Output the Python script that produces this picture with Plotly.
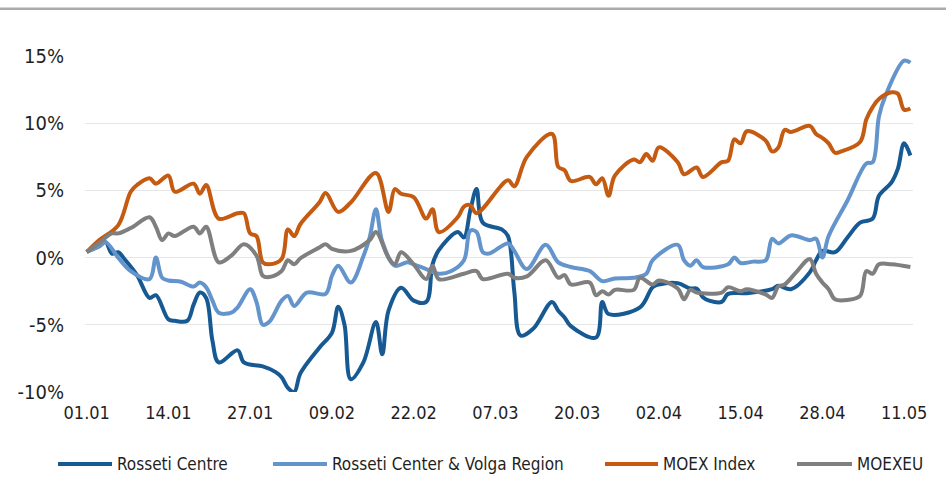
import datetime as dt
import plotly.graph_objects as go

# ---- data (day offsets from 01.01, values in %) ----
BASE = dt.date(2021, 1, 1)

rc_days = [0, 2, 3, 4, 5, 6, 8, 10, 11, 13, 14, 16, 17, 18, 19, 20, 21, 24, 25, 28, 30, 31, 32, 33, 34,
           37, 39, 40, 41, 42, 44, 46, 47, 48, 50, 52, 54, 55, 56, 59, 60, 61, 62, 63, 66, 67, 68, 69, 71,
           74, 75, 76, 77, 81, 82, 83, 88, 90, 91, 94, 96, 97, 98, 99, 101, 102, 105, 109, 110, 112, 115,
           116, 117, 119, 121, 123, 125, 126, 128, 129, 130, 131]
rc_vals = [0.45, 0.85, 1.15, 0.3, 0.4, -0.1, -1.3, -3.0, -2.8, -4.6, -4.7, -4.7, -3.5, -2.6, -3.0, -6.2,
           -7.8, -6.9, -7.8, -8.1, -8.5, -8.9, -9.7, -10.0, -8.6, -6.7, -5.6, -3.65, -5.0, -9.05, -7.8,
           -4.8, -7.2, -3.95, -2.25, -3.2, -3.3, -0.5, 0.55, 1.9, 1.5, 3.5, 5.1, 2.6, 2.1, 1.6, -2.5, -5.8,
           -5.3, -3.3, -3.95, -4.45, -5.1, -5.95, -3.3, -4.2, -3.7, -2.2, -2.0, -1.9, -2.3, -2.3, -2.95,
           -3.2, -3.3, -2.7, -2.65, -2.35, -2.1, -2.35, -1.1, -0.2, 0.5, 0.4, 1.5, 2.6, 2.9, 4.6, 5.6, 6.6,
           8.5, 7.6]

rcv_days = [0, 2, 3, 5, 7, 10, 11, 12, 13, 15, 17, 18, 19, 20, 21, 23, 24, 26, 27, 28, 29, 31, 32, 33, 35,
            38, 39, 40, 42, 44, 45, 46, 47, 49, 51, 52, 54, 56, 58, 60, 61, 62, 63, 64, 67, 68, 70, 73, 75,
            77, 80, 82, 84, 87, 89, 90, 94, 95, 96, 97, 98, 102, 103, 104, 106, 108, 109, 110, 112, 115,
            116, 117, 118, 121, 124, 125, 126, 127, 130, 131]
rcv_vals = [0.45, 0.85, 1.15, 0.0, -1.0, -1.6, 0.0, -1.5, -1.7, -1.8, -2.15, -1.85, -2.2, -3.2, -4.1, -4.1,
            -3.7, -2.35, -3.3, -5.0, -4.8, -3.2, -2.85, -3.6, -2.6, -2.7, -1.35, -0.6, -1.85, 0.1, 1.5, 3.6,
            1.2, -0.6, -0.35, -0.5, -0.85, -1.2, -1.0, -0.2, 2.0, 1.9, 0.4, 0.3, 1.05, 0.5, -0.85, 0.95,
            -0.35, -0.7, -1.0, -1.75, -1.55, -1.5, -1.2, -0.2, 0.95, -0.2, -0.6, -0.2, -0.7, -0.5, 0.0,
            -0.4, -0.3, -0.2, 1.4, 1.05, 1.65, 1.3, 1.4, 0.0, 1.6, 4.25, 7.0, 7.1, 10.5, 12.0, 14.65, 14.5]

moex_days = [0, 2, 5, 7, 8, 10, 11, 13, 14, 17, 18, 19, 21, 24, 25, 26, 27, 28, 29, 31, 32, 33, 34, 37, 38,
             40, 42, 46, 48, 49, 50, 52, 54, 55, 56, 59, 60, 61, 62, 67, 68, 70, 74, 75, 76, 77, 80, 81, 82,
             83, 84, 87, 88, 89, 90, 91, 94, 95, 97, 98, 101, 102, 103, 104, 105, 108, 109, 110, 111, 112,
             115, 116, 117, 118, 119, 120, 123, 124, 125, 126, 128, 129, 130, 131]
moex_vals = [0.4, 1.3, 2.4, 4.9, 5.4, 5.9, 5.5, 6.1, 4.9, 5.5, 4.75, 5.4, 2.9, 3.3, 3.3, 1.8, 1.6, -0.35,
             -0.5, -0.1, 2.1, 1.6, 2.5, 4.1, 4.8, 3.4, 4.1, 6.3, 3.4, 5.1, 4.75, 4.5, 2.9, 3.6, 1.9, 3.0,
             3.8, 3.9, 3.3, 5.75, 5.3, 7.5, 9.2, 6.75, 6.5, 5.7, 6.0, 5.45, 5.9, 4.6, 6.1, 7.3, 7.1, 7.7,
             7.2, 8.2, 7.1, 6.2, 6.7, 6.0, 7.1, 7.2, 8.8, 8.5, 9.4, 8.7, 7.9, 8.2, 9.5, 9.35, 9.8, 9.2,
             8.9, 8.5, 7.8, 7.9, 8.6, 10.3, 11.2, 11.8, 12.3, 12.2, 11.0, 11.1]

eu_days = [0, 2, 4, 5, 7, 10, 11, 12, 13, 14, 17, 18, 19, 21, 23, 25, 27, 28, 29, 31, 32, 33, 34, 37, 38,
           39, 42, 45, 46, 48, 49, 50, 52, 54, 55, 56, 60, 62, 63, 67, 68, 70, 73, 75, 76, 77, 80, 81, 82,
           83, 84, 87, 88, 90, 91, 94, 95, 96, 97, 101, 102, 104, 105, 108, 109, 110, 111, 113, 115, 116,
           117, 118, 119, 121, 123, 124, 125, 126, 128, 131]
eu_vals = [0.4, 1.1, 1.8, 1.8, 2.2, 3.0, 2.3, 1.3, 1.8, 1.6, 2.3, 1.8, 2.3, -0.35, 0.15, 1.0, 0.15, -1.35,
           -1.45, -1.0, -0.2, -0.5, -0.05, 0.75, 1.0, 0.65, 0.5, 1.3, 1.9, 0.0, -0.5, 0.4, -0.5, -1.6,
           -0.6, -1.6, -1.2, -1.0, -1.6, -1.2, -1.5, -1.4, -0.2, -1.5, -1.3, -2.0, -1.85, -2.8, -2.5,
           -2.75, -2.4, -2.4, -1.5, -2.0, -1.7, -2.3, -3.1, -2.4, -2.6, -2.6, -2.2, -2.5, -2.35, -2.75,
           -3.0, -2.15, -2.0, -1.0, -0.1, -1.2, -1.85, -2.35, -3.1, -3.15, -2.85, -1.0, -1.2, -0.5, -0.5,
           -0.7]

series_names = ["Rosseti Centre", "Rosseti Center & Volga Region", "MOEX Index", "MOEXEU"]
series_colors = ["#175a93", "#6394cc", "#c55a11", "#7f7f7f"]
series_days = [rc_days, rcv_days, moex_days, eu_days]
series_vals = [rc_vals, rcv_vals, moex_vals, eu_vals]

y_ticks = [-10, -5, 0, 5, 10, 15]
y_labels = ["-10%", "-5%", "0%", "5%", "10%", "15%"]
x_tick_days = [0, 13, 26, 39, 52, 65, 78, 91, 104, 117, 130]

FONT = "DejaVu Sans Condensed, Liberation Sans Narrow, Arial Narrow, sans-serif"

def to_date(d):
    return (BASE + dt.timedelta(days=d)).isoformat()

fig = go.Figure()
for name, color, days, vals in zip(series_names, series_colors, series_days, series_vals):
    fig.add_trace(go.Scatter(
        x=[to_date(d) for d in days], y=vals, name=name, mode="lines",
        line=dict(color=color, width=4, shape="spline", smoothing=1.0),
        showlegend=False, hoverinfo="skip"))

# plot area in pixels: x 85..913, y 56..392
L, R, T, B = 85, 33, 56, 112
PW, PH = 946 - L - R, 504 - T - B

def px(x):
    return (x - L) / PW

def py(y):
    return (504 - B - y) / PH

shapes = [dict(type="line", xref="paper", yref="paper", x0=px(0), x1=px(946), y0=py(8.8), y1=py(8.8),
               line=dict(color="#ababab", width=2.5))]
annotations = []
leg_lines = [(58, 112), (273, 327), (605, 658), (797, 852)]
leg_text_x = [115, 330, 661, 855]
for (a, b), tx, name, color in zip(leg_lines, leg_text_x, series_names, series_colors):
    shapes.append(dict(type="line", xref="paper", yref="paper", x0=px(a), x1=px(b), y0=py(464), y1=py(464),
                       line=dict(color=color, width=4)))
    annotations.append(dict(text=name, xref="paper", yref="paper", x=px(tx), y=py(464), xanchor="left",
                            yanchor="middle", showarrow=False, font=dict(size=17, color="#1f1f1f", family=FONT)))

fig.update_layout(
    width=946, height=504, margin=dict(l=L, r=R, t=T, b=B, autoexpand=False),
    paper_bgcolor="white", plot_bgcolor="white",
    font=dict(family=FONT, color="#1f1f1f"),
    showlegend=False, shapes=shapes, annotations=annotations,
    xaxis=dict(type="date", range=["2020-12-31 17:30", "2021-05-12 10:00"],
               tickvals=[to_date(d) for d in x_tick_days], tickformat="%d.%m", automargin=False,
               showgrid=False, zeroline=False, showline=False, ticks="",
               tickfont=dict(size=18, family=FONT, color="#1f1f1f"), ticklabelstandoff=8),
    yaxis=dict(range=[-10, 15], tickvals=y_ticks, ticktext=y_labels, automargin=False,
               showgrid=True, gridcolor="#e6e6e6", gridwidth=1, zeroline=False, showline=False,
               ticks="", tickfont=dict(size=20, family=FONT, color="#1f1f1f"), ticklabelstandoff=20),
)

fig.write_html("out.html", config={"displayModeBar": False},
               post_script="document.body.style.margin='0';document.body.style.overflow='hidden';")
